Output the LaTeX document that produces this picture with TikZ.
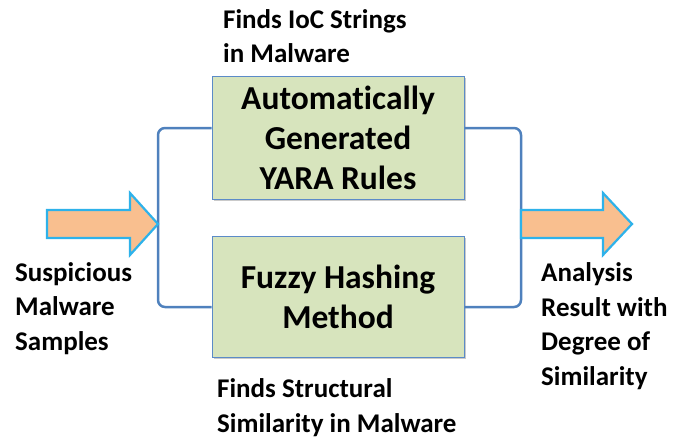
\documentclass[tikz,border=0pt]{standalone}
\usepackage{fontspec}
\setmainfont[Ligatures={NoCommon}]{Carlito}
\usetikzlibrary{shadows}
\definecolor{boxfill}{HTML}{D7E4BD}
\definecolor{boxline}{HTML}{5B8BC8}
\definecolor{brk}{HTML}{4F81BD}
\definecolor{arrfill}{HTML}{F9BF8F}
\definecolor{arrline}{HTML}{2EB2EA}
\tikzset{
  method/.style={draw=boxline, line width=1pt, fill=boxfill, minimum width=252pt, align=center,
    font=\bfseries\fontsize{33.5}{40}\selectfont, inner sep=0pt,
    drop shadow={shadow xshift=1.5pt, shadow yshift=-2pt, opacity=0.35, fill=black!60}},
  lbl/.style={align=left, font=\bfseries\fontsize{27}{34.5}\selectfont, inner sep=0pt, anchor=base west},
  bracket/.style={draw=brk, line width=2.5pt, rounded corners=7pt},
  bigarrow/.style={draw=arrline, fill=arrfill, line width=2.2pt, line join=miter},
}
\begin{document}
\begin{tikzpicture}[x=1pt, y=-1pt]
\useasboundingbox (0,0) rectangle (689,439);
% method boxes
\node[method, minimum height=123pt] (yara) at (338,137.5) {Automatically\\Generated\\YARA Rules};
\node[method, minimum height=121pt] (fuzzy) at (338,296.5) {Fuzzy Hashing\\Method};
% junction points
\coordinate (lj) at (158,224);
\coordinate (rj) at (521,224);
% brackets
\draw[bracket] ([yshift=9.5pt]yara.west) -| (lj) |- ([yshift=-10.5pt]fuzzy.west);
\draw[bracket] ([yshift=9.5pt]yara.east) -| (rj) |- ([yshift=-10.5pt]fuzzy.east);
% arrows
\draw[bigarrow] (47,210) -- (130,210) -- (130,193) -- (lj) -- (130,255) -- (130,238) -- (47,238) -- cycle;
\draw[bigarrow] (rj |- 0,210) -- (603,210) -- (603,193) -- (632,224) -- (603,255) -- (603,238) -- (rj |- 0,238) -- cycle;
% labels (anchored at the baseline of the last line)
\node[lbl] (ioc) at (223,63) {Finds IoC Strings\\in Malware};
\node[lbl] (struct) at (217,432) {Finds Structural\\Similarity in Malware};
\node[lbl] (input) at (15,350) {Suspicious\\Malware\\Samples};
\node[lbl] (output) at (541,385) {Analysis\\Result with\\Degree of\\Similarity};
\end{tikzpicture}
\end{document}
